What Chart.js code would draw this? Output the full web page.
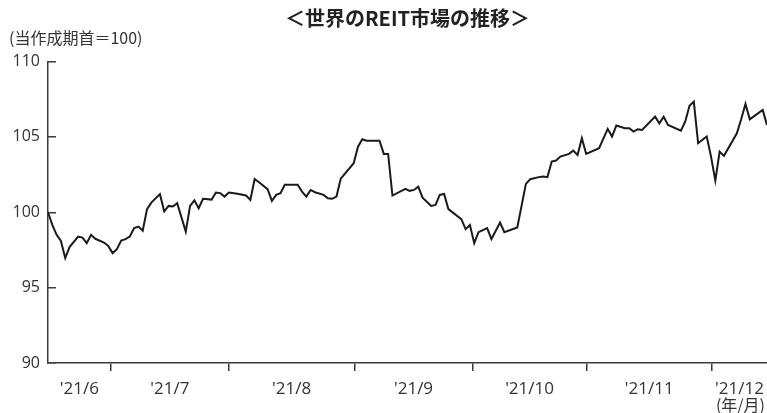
<!DOCTYPE html>
<html lang="ja">
<head>
<meta charset="utf-8">
<script src="https://cdn.jsdelivr.net/npm/chart.js@4.4.1/dist/chart.umd.min.js"></script>
<style>
	html, body { margin: 0; padding: 0; background: #fff; }
</style>
</head>
<body>
<canvas id="chart-reit" width="767" height="413"></canvas>
<script>
const FONT = '"Noto Sans CJK JP", "Noto Sans", sans-serif';
const NUM_FONT = '"Open Sans", "Noto Sans CJK JP", sans-serif';
const INK = "#333";
const AXIS = "#3a3a3a";

// trading day number (from start of period) and index value (start = 100)
const dayIdx = [
	0, 1, 2, 3, 4, 5, 7, 8, 9, 10, 11, 13, 14, 15, 16, 17, 18, 19, 20, 21, 22, 23, 24, 26, 27, 28, 29, 30,
	32, 33, 34, 35, 36, 38, 39, 40, 41, 42, 44, 46, 47, 48, 49, 51, 52, 53, 54, 55, 58, 59, 60, 61, 62,
	64, 65, 66, 67, 68, 71, 72, 73, 74, 77, 78, 79, 80, 83, 84, 85, 86, 87, 89, 90, 91, 92, 93, 96, 97,
	98, 99, 100, 102, 103, 105, 106, 109, 111, 112, 114, 115, 116, 117, 118, 119, 121, 122, 123, 124,
	125, 128, 130, 131, 132, 134, 135, 136, 137, 138, 141, 142, 143, 144, 147, 148, 149, 150, 151, 153,
	154, 155, 156, 157, 160, 161, 162, 163, 166, 167,
];
const reitIndex = [
	100.0, 99.16, 98.5, 98.1, 96.96, 97.69, 98.39, 98.32, 97.95, 98.5, 98.24, 97.99, 97.77, 97.29, 97.55,
	98.12, 98.22, 98.39, 98.95, 99.05, 98.77, 100.21, 100.64, 101.2, 100.05, 100.42, 100.38, 100.6,
	98.72, 100.42, 100.79, 100.27, 100.89, 100.84, 101.31, 101.27, 101.04, 101.31, 101.22, 101.11,
	100.82, 102.21, 101.99, 101.53, 100.76, 101.15, 101.27, 101.82, 101.82, 101.37, 101.04, 101.48,
	101.33, 101.15, 100.93, 100.89, 101.04, 102.23, 103.25, 104.35, 104.84, 104.75, 104.75, 103.87,
	103.87, 101.11, 101.55, 101.42, 101.48, 101.7, 100.97, 100.42, 100.49, 101.15, 101.22, 100.21,
	99.54, 98.88, 99.16, 97.95, 98.68, 98.95, 98.22, 99.32, 98.68, 98.99, 101.88, 102.19, 102.33,
	102.37, 102.33, 103.36, 103.43, 103.69, 103.87, 104.09, 103.8, 104.91, 103.87, 104.25, 105.53,
	105.02, 105.75, 105.57, 105.57, 105.35, 105.51, 105.46, 106.34, 105.9, 106.34, 105.79, 105.41,
	106.01, 107.07, 107.34, 104.58, 105.02, 103.69, 102.1, 104.02, 103.74, 105.24, 106.17, 107.18,
	106.17, 106.79, 105.79,
];
const lastDay = 167;

// where each new month starts (in trading days) and the month labels
const monthStarts = [14.6, 42.0, 71.2, 98.6, 125.1, 154.2];
const monthLabels = ["'21/6", "'21/7", "'21/8", "'21/9", "'21/10", "'21/11", "'21/12"];

// extra texts: unit note, month labels, (年/月)
const extraText = {
	id: "extraText",
	afterDraw(chart) {
		const { ctx } = chart;
		const x = chart.scales.x;
		ctx.save();
		ctx.fillStyle = INK;
		ctx.textBaseline = "middle";

		ctx.font = `16px ${FONT}`;
		ctx.textAlign = "left";
		ctx.fillText("(当作成期首＝100)", 9, 38);

		ctx.font = `17px ${NUM_FONT}`;
		ctx.textAlign = "center";
		const edges = [0, ...monthStarts, lastDay];
		monthLabels.forEach((label, i) => {
			const cx = (x.getPixelForValue(edges[i]) + x.getPixelForValue(edges[i + 1])) / 2;
			ctx.fillText(label, cx, 389);
		});

		ctx.font = `16px ${FONT}`;
		const lastCx = (x.getPixelForValue(edges[edges.length - 2]) + x.getPixelForValue(lastDay)) / 2;
		ctx.fillText("(年/月)", lastCx + 1, 405);
		ctx.restore();
	},
};

new Chart(document.getElementById("chart-reit"), {
	type: "line",
	data: {
		datasets: [
			{
				label: "世界のREIT",
				data: dayIdx.map((d, i) => ({ x: d, y: reitIndex[i] })),
				borderColor: "#1a1a1a",
				borderWidth: 2,
				pointRadius: 0,
				tension: 0,
				fill: false,
			},
		],
	},
	options: {
		responsive: false,
		animation: false,
		layout: { padding: 0 },
		plugins: {
			legend: { display: false },
			tooltip: { enabled: false },
			title: {
				display: true,
				text: "＜世界のREIT市場の推移＞",
				fullSize: false,
				color: "#222",
				font: { family: FONT, size: 20, weight: "bold" },
				padding: { top: 6, bottom: 31.5 },
			},
		},
		scales: {
			x: {
				type: "linear",
				min: 0,
				max: lastDay,
				border: { display: true, color: AXIS, width: 1.5 },
				grid: { drawOnChartArea: false, drawTicks: true, tickLength: 8, color: AXIS, lineWidth: 1.5 },
				ticks: { display: false },
				afterBuildTicks: (scale) => {
					scale.ticks = monthStarts.map((v) => ({ value: v }));
				},
				afterFit: (scale) => {
					scale.height = 50;
				},
			},
			y: {
				min: 90,
				max: 110,
				border: { display: true, color: AXIS, width: 1.5 },
				// negative length puts the tick marks inside the plot
				grid: { drawOnChartArea: false, drawTicks: true, tickLength: -8, color: AXIS, lineWidth: 1.5 },
				ticks: {
					stepSize: 5,
					padding: 16,
					color: INK,
					font: { family: NUM_FONT, size: 16 },
				},
				afterFit: (scale) => {
					scale.width = 48;
				},
			},
		},
	},
	plugins: [extraText],
});
</script>
</body>
</html>
